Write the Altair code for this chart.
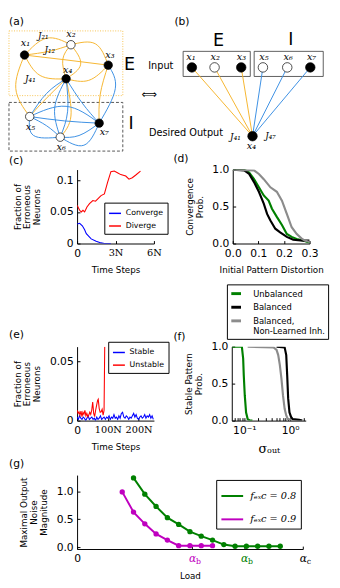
import altair as alt
import pandas as pd

SANS = "DejaVu Sans"
SERIF = "DejaVu Serif"

# ---------------- (a)/(b) network diagram ----------------
node_id = ["a1", "a2", "a3", "a4", "a5", "a6", "a7", "b1", "b2", "b3", "b5", "b6", "b7", "b4"]
node_x = [24, 71.7, 110, 66.7, 29.3, 60.7, 100.7, 196, 219.3, 246.7, 269, 294, 317.7, 258.3]
node_y = [47.3, 36.7, 57.7, 71.7, 110.5, 131.7, 117.3, 60, 60, 60, 60, 60, 60, 130.7]
node_active = [1, 0, 1, 1, 0, 0, 1, 1, 0, 1, 0, 0, 1, 1]
node_panel = ["a"] * 7 + ["b"] * 7

edge_src = ["a1", "a2", "a2", "a1", "a1", "a2", "a2", "a3", "a1", "a4", "a4", "a3",
            "a7", "a7", "a5", "a6", "a6", "a5", "a7", "a5", "a6", "a6", "a7",
            "b1", "b2", "b3", "b5", "b6", "b7"]
edge_mid_x = [46.7, 50, 96.7, 66.7, 40, 81.7, 63.3, 90, 15, 43.3, 71.7, 101.7,
              117.3, 83.3, 46.7, 55, 68.3, 66.7, 65, 33.3, 46.7, 80, 85,
              None, None, None, None, None, None]
edge_mid_y = [30, 43.3, 35.7, 52.3, 68.3, 56.7, 51.7, 73.3, 81.7, 95, 110, 88.3,
              81.7, 96.7, 86.7, 101.7, 105, 100, 115, 130, 120, 130, 140,
              None, None, None, None, None, None]
edge_dst = ["a2", "a1", "a3", "a3", "a4", "a4", "a4", "a4", "a5", "a5", "a6", "a7",
            "a3", "a4", "a4", "a4", "a4", "a7", "a5", "a6", "a5", "a7", "a6",
            "b4", "b4", "b4", "b4", "b4", "b4"]
edge_pop = ["E"] * 12 + ["I"] * 11 + ["E"] * 3 + ["I"] * 3

# boxes: dotted E box, dashed I box, and the two solid boxes of (b)
dot_box = {"x": [8], "x2": [125], "y": [22.5], "y2": [89]}
dash_box = {"x": [8], "x2": [125], "y": [96], "y2": [146]}
solid_box = {"x": [187, 260], "x2": [256, 331], "y": [43.5, 43.5], "y2": [69.3, 69.3]}

math_text = ["x₁", "x₂", "x₃", "x₄", "x₅", "x₆", "x₇",
             "x₁", "x₂", "x₃", "x₅", "x₆", "x₇", "x₄"]
math_x = [25, 71.7, 111.7, 68.3, 30, 61.7, 106, 195, 220, 247, 270, 295, 319, 257.3]
math_y = [35, 26, 47.3, 62.7, 121.7, 141.7, 126, 49.5, 49.5, 49.5, 49.5, 49.5, 49.5, 140.5]

j_text = ["J₂₁", "J₁₂", "J₄₁", "J₄₁", "J₄₇"]
j_x = [43.3, 50, 30, 240.7, 276.7]
j_y = [28.3, 42.7, 71.7, 131.7, 130.7]

sans_text = ["Input", "Desired Output"]
sans_x = [177, 228]
sans_y = [58.3, 127.7]

panel_text = ["(a)", "(b)", "(c)", "(d)", "(e)", "(f)", "(g)"]
panel_x = [8, 178, 8, 177, 8, 177, 8]
panel_y = [13.5, 13.5, 156, 154, 335, 337, 468]

arrow_text = ["⟺"]
arrow_x = [152]
arrow_y = [88.3]

big_text = ["E", "I", "E", "I"]
big_x = [132, 133.5, 223.3, 297.7]
big_y = [57.3, 118.5, 33, 32]

# ---------------- (c) ----------------
c_conv_t = [0, 0.2, 0.41, 0.59, 0.72, 1.1, 1.49, 1.87, 2.13, 2.64]
c_conv_f = [0.031, 0.032, 0.028, 0.0217, 0.0155, 0.0073, 0.0037, 0.001, 0.0, 0.0]
c_div_t = [0, 0.2, 0.33, 0.46, 0.59, 0.77, 0.97, 1.23, 1.44, 1.62, 1.87, 2.13, 2.38,
           2.64, 2.9, 3.15, 3.41, 3.8, 4.05, 4.31, 4.56, 4.95]
c_div_f = [0.0604, 0.0526, 0.05, 0.0526, 0.05, 0.0579, 0.063, 0.068, 0.067, 0.0706,
           0.0758, 0.0785, 0.0966, 0.1137, 0.1146, 0.112, 0.109, 0.1068, 0.1017,
           0.104, 0.108, 0.1146]

# ---------------- (d) ----------------
d_unbal_x = [0, 0.045, 0.064, 0.083, 0.102, 0.121, 0.14, 0.153, 0.172, 0.192, 0.211,
             0.23, 0.249, 0.275, 0.3]
d_unbal_p = [1, 1.0, 0.96, 0.87, 0.76, 0.65, 0.58, 0.47, 0.36, 0.25, 0.13, 0.09, 0.06,
             0.04, 0.01]
d_bal_x = [0, 0.045, 0.064, 0.083, 0.102, 0.121, 0.134, 0.147, 0.166, 0.185, 0.211,
           0.236, 0.275, 0.3]
d_bal_p = [1, 0.99, 0.94, 0.83, 0.70, 0.54, 0.40, 0.31, 0.20, 0.15, 0.09, 0.05, 0.04,
           0.04]
d_nl_x = [0, 0.083, 0.102, 0.121, 0.147, 0.172, 0.192, 0.211, 0.23, 0.249, 0.268,
          0.281, 0.3]
d_nl_p = [1, 0.99, 0.94, 0.87, 0.76, 0.70, 0.58, 0.40, 0.22, 0.13, 0.07, 0.04, 0.02]
d_models = ["Unbalanced", "Balanced", "Balanced, Non-Learned Inh."]
d_colors = ["#008000", "#000000", "#8c8c8c"]

# ---------------- (e) ----------------
e_unst_t = [0, 3.2, 6.3, 9.5, 12.7, 15.9, 19, 22.2, 25.4, 28.6, 31.7, 34.9, 38.1, 41.3,
            44.4, 47.6, 50.8, 54, 57.1, 60.3, 63.5, 66.7, 68.8, 72, 75.1, 78.3, 81.5,
            84.7, 87.8, 89.9]
e_unst_f = [0.0087, 0.006, 0.0074, 0.0046, 0.008, 0.0033, 0.007, 0.0052, 0.0087, 0.004,
            0.006, 0.0033, 0.0046, 0.007, 0.0052, 0.0087, 0.0157, 0.006, 0.0033, 0.0087,
            0.0129, 0.017, 0.018, 0.0101, 0.007, 0.0074, 0.0096, 0.0046, 0.0087, 0.0623]
e_stab_f = [0.003, 0.001, 0.004, 0.002, 0.001, 0.003, 0.002, 0.000, 0.002, 0.004, 0.001,
            0.002, 0.003, 0.001, 0.002, 0.000, 0.003, 0.001, 0.002, 0.004, 0.001, 0.002,
            0.003, 0.001, 0.003, 0.002, 0.004, 0.001, 0.003, 0.002, 0.005, 0.002, 0.003,
            0.001, 0.004, 0.002, 0.006, 0.007, 0.003, 0.002, 0.004, 0.003, 0.001, 0.003,
            0.002, 0.004, 0.006, 0.003, 0.005, 0.002, 0.001, 0.003, 0.004, 0.002, 0.003,
            0.005, 0.002, 0.004, 0.003, 0.005, 0.002, 0.004, 0.001]
e_stab_t = [4 * i for i in range(len(e_stab_f))]

# ---------------- (f) ----------------
f_unbal_s = [0.053, 0.088, 0.094, 0.097, 0.102, 0.109, 0.118, 0.134, 0.15]
f_unbal_p = [1, 1, 0.84, 0.61, 0.34, 0.11, 0.02, 0, 0]
f_bal_s = [0.506, 0.76, 0.824, 0.865, 0.908, 0.97, 1.05, 1.14, 1.58, 1.85]
f_bal_p = [1.0, 0.99, 0.886, 0.61, 0.30, 0.11, 0.05, 0.02, 0.01, 0.0]
f_nl_s = [0.118, 0.435, 0.506, 0.55, 0.597, 0.646, 0.70, 0.76, 0.824, 0.895, 1.05]
f_nl_p = [1.0, 0.99, 0.955, 0.886, 0.75, 0.57, 0.34, 0.16, 0.07, 0.02, 0.01]
f_ticks = [0.06, 0.07, 0.08, 0.09, 0.1, 0.2, 0.3, 0.4, 0.5, 0.6, 0.7, 0.8, 0.9, 1, 2]

# ---------------- (g) ----------------
g_load_08 = [0.25, 0.30, 0.35, 0.40, 0.45, 0.50, 0.55, 0.60, 0.65, 0.70, 0.75, 0.80, 0.85, 0.90]
g_noise_08 = [1.24, 0.95, 0.73, 0.53, 0.41, 0.28, 0.20, 0.13, 0.05, 0.02, 0.02, 0.02, 0.02, 0.02]
g_load_09 = [0.20, 0.25, 0.30, 0.35, 0.40, 0.45, 0.50, 0.55, 0.60]
g_noise_09 = [0.99, 0.63, 0.42, 0.24, 0.13, 0.03, 0.03, 0.03, 0.03]
g_series = ["fₑₓc = 0.8", "fₑₓc = 0.9"]
g_colors = ["#008000", "#bf00bf"]
g_tick_x = [0, 0.51, 0.74, 1.0]
g_sub_x = [0.51, 0.74, 1.0]
g_sub_text = ["b", "b", "c"]
g_sub_color = ["#bf00bf", "#008000", "#000000"]

# =============== build row 1 (diagram + panel letters) ===============
pos = dict(zip(node_id, zip(node_x, node_y)))
edge_rows = []
for i, (s, mx, my, d, p) in enumerate(zip(edge_src, edge_mid_x, edge_mid_y, edge_dst, edge_pop)):
    pts = [pos[s]] + ([(mx, my)] if mx is not None else []) + [pos[d]]
    for k, (x, y) in enumerate(pts):
        edge_rows.append({"edge": i, "k": k, "x": x, "y": y, "pop": p})
edges_df = pd.DataFrame(edge_rows)
nodes_df = pd.DataFrame({"x": node_x, "y": node_y, "active": node_active, "panel": node_panel})

DX = alt.Scale(domain=[78, 340], nice=False, zero=False)
DY = alt.Scale(domain=[8, 158], nice=False, zero=False, reverse=True)


def dxy():
    return dict(x=alt.X("x:Q", scale=DX, axis=None), y=alt.Y("y:Q", scale=DY, axis=None))


def box_layer(b, **kw):
    return alt.Chart(pd.DataFrame(b)).mark_rect(fillOpacity=0, **kw).encode(**dxy(), x2="x2:Q", y2="y2:Q")


boxes_dot = box_layer(dot_box, stroke="#f7c24f", strokeWidth=1, strokeDash=[1, 1.6])
boxes_dash = box_layer(dash_box, stroke="#555555", strokeWidth=1, strokeDash=[3, 2])
boxes_solid = box_layer(solid_box, stroke="#333333", strokeWidth=0.8)

edges = alt.Chart(edges_df).mark_line(interpolate="natural", strokeWidth=1).encode(
    **dxy(), detail="edge:N", order="k:Q",
    color=alt.Color("pop:N", scale=alt.Scale(domain=["E", "I"], range=["#f6b52e", "#3b8fe3"]), legend=None),
)
nodes = alt.Chart(nodes_df).mark_point(filled=True, stroke="black", strokeWidth=0.7, opacity=1).encode(
    **dxy(),
    fill=alt.Fill("active:N", scale=alt.Scale(domain=[1, 0], range=["black", "white"]), legend=None),
    size=alt.Size("panel:N", scale=alt.Scale(domain=["a", "b"], range=[75, 95]), legend=None),
)


def text_layer(texts, xs, ys, **kw):
    df = pd.DataFrame({"t": texts, "x": xs, "y": ys})
    return alt.Chart(df).mark_text(**kw).encode(**dxy(), text="t:N")


lab_math = text_layer(math_text, math_x, math_y, font=SERIF, fontStyle="italic", fontSize=10,
                      baseline="middle", align="center")
lab_j = text_layer(j_text, j_x, j_y, font=SERIF, fontStyle="italic", fontSize=9,
                   baseline="middle", align="center")
lab_sans = text_layer(sans_text, sans_x, sans_y, font=SANS, fontSize=10, baseline="middle", align="right")
lab_panel = text_layer(panel_text, panel_x, panel_y, font=SANS, fontSize=11, baseline="middle", align="left")
lab_arrow = text_layer(arrow_text, arrow_x, arrow_y, font=SANS, fontSize=11, baseline="middle", align="center")
lab_big = text_layer(big_text, big_x, big_y, font=SANS, fontSize=18, baseline="middle", align="center")

row1 = alt.layer(boxes_dot, boxes_dash, boxes_solid, edges, nodes, lab_math, lab_j, lab_sans,
                 lab_panel, lab_arrow, lab_big).properties(width=262, height=150)

n_label = "datum.value == 0 ? '0' : datum.value + 'N'"
n_font = {"condition": {"test": "datum.value == 0", "value": SANS}, "value": SERIF}
n_size = {"condition": {"test": "datum.value == 0", "value": 11}, "value": 10}

# =============== (c) ===============
c_df = pd.concat([
    pd.DataFrame({"t": c_conv_t, "f": c_conv_f, "s": "Converge"}),
    pd.DataFrame({"t": c_div_t, "f": c_div_f, "s": "Diverge"}),
])
c_chart = alt.Chart(c_df).mark_line(strokeWidth=1.1, clip=True).encode(
    x=alt.X("t:Q", scale=alt.Scale(domain=[0, 6], nice=False),
            axis=alt.Axis(values=[0, 3, 6], title="Time Steps", labelExpr=n_label,
                          labelFont=n_font, labelFontSize=n_size)),
    y=alt.Y("f:Q", scale=alt.Scale(domain=[0, 0.117], nice=False),
            axis=alt.Axis(values=[0, 0.05, 0.1], format="~g", title=["Fraction of", "Erroneous", "Neurons"])),
    color=alt.Color("s:N", scale=alt.Scale(domain=["Converge", "Diverge"], range=["#0000ff", "#ff0000"]),
                    legend=alt.Legend(title=None, orient="none", legendX=28, legendY=34,
                                      symbolStrokeWidth=1.5, symbolSize=150, labelOffset=4)),
).properties(width=79, height=76)

# =============== (d) ===============
d_df = pd.concat([
    pd.DataFrame({"x": d_unbal_x, "p": d_unbal_p, "m": d_models[0]}),
    pd.DataFrame({"x": d_bal_x, "p": d_bal_p, "m": d_models[1]}),
    pd.DataFrame({"x": d_nl_x, "p": d_nl_p, "m": d_models[2]}),
])
d_chart = alt.Chart(d_df).mark_line(strokeWidth=2.2, clip=True).encode(
    x=alt.X("x:Q", scale=alt.Scale(domain=[0, 0.3], nice=False),
            axis=alt.Axis(values=[0, 0.1, 0.2, 0.3], format=".1f", title="Initial Pattern Distortion")),
    y=alt.Y("p:Q", scale=alt.Scale(domain=[0, 1], nice=False),
            axis=alt.Axis(values=[0, 0.5, 1], format=".1f", title=["Convergence", "Prob."])),
    color=alt.Color("m:N", scale=alt.Scale(domain=d_models, range=d_colors),
                    legend=alt.Legend(title=None, orient="none", legendX=-6, legendY=118,
                                      symbolStrokeWidth=3, symbolSize=100, rowPadding=1,
                                      labelFontSize=8.6, labelOffset=11, padding=3,
                                      labelExpr="datum.label == 'Balanced, Non-Learned Inh.' ? ['Balanced,', 'Non-Learned Inh.'] : datum.label")),
).properties(width=79, height=76)

# =============== (e) ===============
e_df = pd.concat([
    pd.DataFrame({"t": e_stab_t, "f": e_stab_f, "s": "Stable"}),
    pd.DataFrame({"t": e_unst_t, "f": e_unst_f, "s": "Unstable"}),
])
e_chart = alt.Chart(e_df).mark_line(strokeWidth=1.1, clip=True).encode(
    x=alt.X("t:Q", scale=alt.Scale(domain=[0, 250], nice=False),
            axis=alt.Axis(values=[0, 100, 200], title="Time Steps", labelExpr=n_label,
                          labelFont=n_font, labelFontSize=n_size)),
    y=alt.Y("f:Q", scale=alt.Scale(domain=[0, 0.0623], nice=False),
            axis=alt.Axis(values=[0, 0.05], format="~g", title=["Fraction of", "Erroneous", "Neurons"])),
    color=alt.Color("s:N", scale=alt.Scale(domain=["Stable", "Unstable"], range=["#0000ff", "#ff0000"]),
                    legend=alt.Legend(title=None, orient="none", legendX=32, legendY=-5,
                                      symbolStrokeWidth=1.5, symbolSize=150, labelOffset=4)),
).properties(width=79, height=76)

# =============== (f) ===============
f_df = pd.concat([
    pd.DataFrame({"s": f_unbal_s, "p": f_unbal_p, "m": d_models[0]}),
    pd.DataFrame({"s": f_bal_s, "p": f_bal_p, "m": d_models[1]}),
    pd.DataFrame({"s": f_nl_s, "p": f_nl_p, "m": d_models[2]}),
])
f_chart = alt.Chart(f_df).mark_line(strokeWidth=2.2, clip=True).encode(
    x=alt.X("s:Q", scale=alt.Scale(type="log", domain=[0.053, 2.2], nice=False),
            axis=alt.Axis(values=f_ticks, title="σₒᵤₜ", titleFont=SERIF, titleFontSize=13,
                          labelOverlap=False,
                          labelExpr="datum.value == 0.1 ? '10⁻¹' : (datum.value == 1 ? '10⁰' : '')")),
    y=alt.Y("p:Q", scale=alt.Scale(domain=[0, 1], nice=False),
            axis=alt.Axis(values=[0, 0.5, 1], format=".1f", title=["Stable Pattern", "Prob."])),
    color=alt.Color("m:N", scale=alt.Scale(domain=d_models, range=d_colors), legend=None),
).properties(width=76, height=76)

# =============== (g) ===============
g_df = pd.concat([
    pd.DataFrame({"l": g_load_08, "n": g_noise_08, "s": g_series[0]}),
    pd.DataFrame({"l": g_load_09, "n": g_noise_09, "s": g_series[1]}),
])
gx = alt.X("l:Q", scale=alt.Scale(domain=[0, 1], nice=False),
           axis=alt.Axis(values=g_tick_x, title="Load",
                         labelExpr="datum.value == 0 ? '0' : 'α'",
                         labelFont={"condition": {"test": "datum.value == 0", "value": SANS}, "value": SERIF},
                         labelFontStyle={"condition": {"test": "datum.value == 0", "value": "normal"},
                                         "value": "italic"},
                         labelColor={"condition": [
                             {"test": "datum.value > 0.4 && datum.value < 0.6", "value": "#bf00bf"},
                             {"test": "datum.value > 0.6 && datum.value < 0.9", "value": "#008000"}],
                             "value": "black"}))
g_lines = alt.Chart(g_df).mark_line(strokeWidth=2, point=alt.OverlayMarkDef(size=30, filled=True)).encode(
    x=gx,
    y=alt.Y("n:Q", scale=alt.Scale(domain=[-0.03, 1.29], nice=False, zero=False),
            axis=alt.Axis(values=[0, 0.5, 1], format=".1f", title=["Maximal Output", "Noise", "Magnitude"])),
    color=alt.Color("s:N", scale=alt.Scale(domain=g_series, range=g_colors),
                    legend=alt.Legend(title=None, orient="none", legendX=143, legendY=5,
                                      labelFont=SERIF, labelFontStyle="italic", labelFontSize=10,
                                      symbolStrokeWidth=2, symbolSize=500, rowPadding=6, labelOffset=6)),
)
g_subs = alt.Chart(pd.DataFrame({"l": g_sub_x, "t": g_sub_text, "c": g_sub_color})).mark_text(
    font=SERIF, fontSize=8, align="left", baseline="alphabetic", dx=4, dy=0).encode(
    x=alt.X("l:Q"), y=alt.value(91), text="t:N", color=alt.Color("c:N", scale=None))
g_chart = alt.layer(g_lines, g_subs).properties(width=232, height=76)


def spacer(h):
    return alt.Chart(pd.DataFrame({"v": [0]})).mark_point(opacity=0).encode(
        x=alt.X("v:Q", axis=None), y=alt.Y("v:Q", axis=None)).properties(width=1, height=h)


# =============== assemble ===============
row2 = alt.hconcat(c_chart, d_chart, spacing=81, bounds="flush").resolve_scale(color="independent")
row3 = alt.hconcat(e_chart, f_chart, spacing=80, bounds="flush").resolve_scale(color="independent")
chart = alt.vconcat(row1, spacer(7), row2, spacer(182), row3, spacer(132), g_chart,
                    spacing=0, bounds="flush").resolve_scale(color="independent").properties(
    padding=0
).configure_view(stroke=None).configure_axis(
    grid=False, domainColor="black", tickColor="black", labelColor="black",
    labelFont=SANS, labelFontSize=11, titleFont=SANS, titleFontSize=9, titleFontWeight="normal",
    titleColor="black", tickSize={"expr": "-3"}, labelPadding=7, titlePadding=8,
    labelFlush=False, titleLineHeight=10, domainWidth=1, tickWidth=1,
).configure_legend(
    strokeColor="black", strokeWidth=1, fillColor="white", padding=4, cornerRadius=0,
    labelFont=SANS, labelFontSize=8, labelColor="black", symbolType="stroke",
)

chart.save("out.html", embed_options={"renderer": "svg", "actions": False})
